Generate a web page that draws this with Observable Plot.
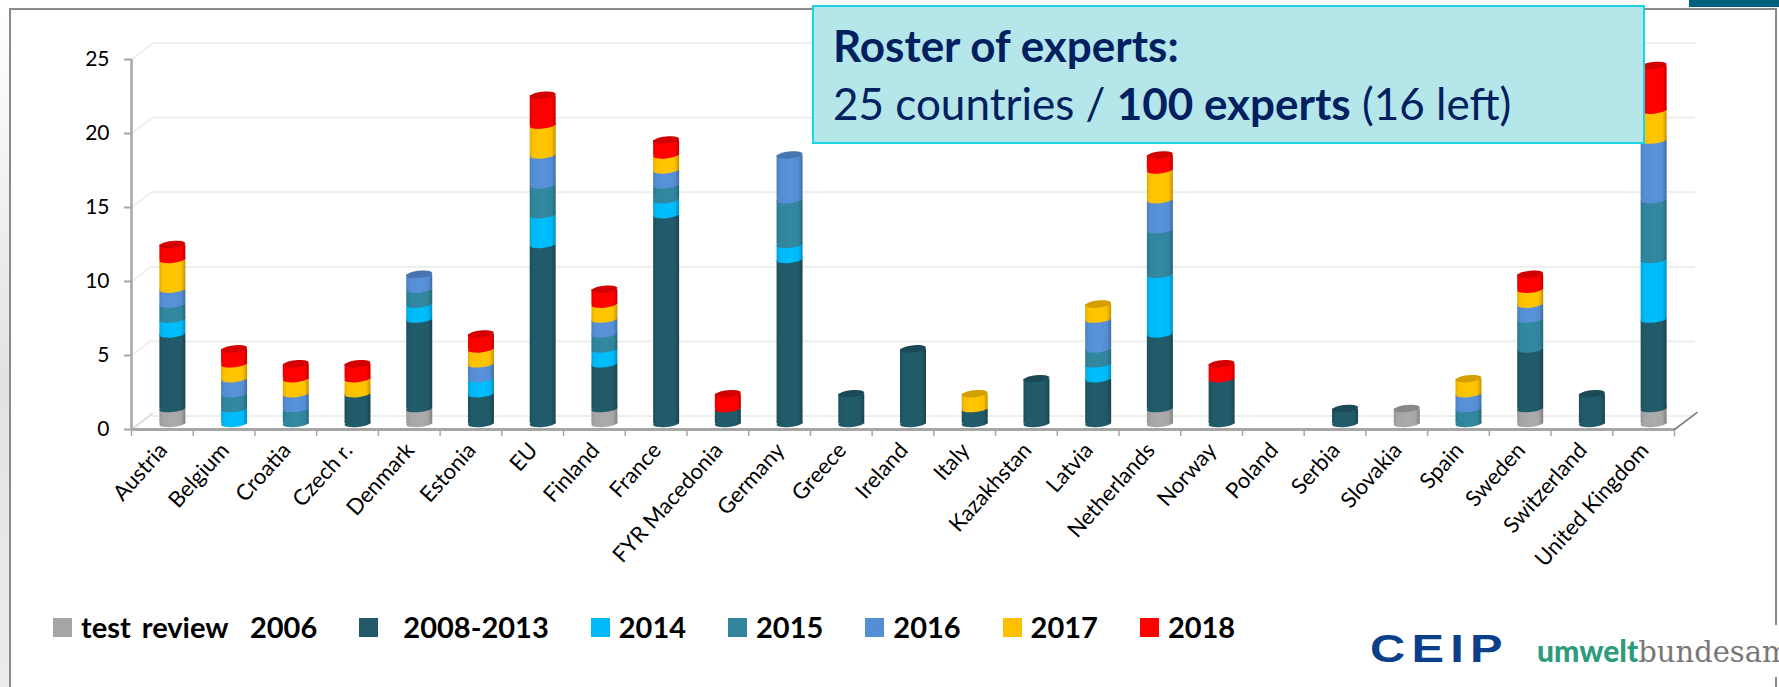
<!DOCTYPE html>
<html><head><meta charset="utf-8">
<script src="https://cdn.jsdelivr.net/npm/d3@7"></script>
<script src="https://cdn.jsdelivr.net/npm/@observablehq/plot@0.6"></script>
<style>
html,body{margin:0;padding:0;background:#fff;overflow:hidden}
#page{position:relative;width:1779px;height:687px;overflow:hidden;font-family:Lato,sans-serif}
#strip{position:absolute;left:0;top:8px;width:9px;height:679px;background:linear-gradient(#fff,#e2e2e2 55%,#ececec)}
#frame{position:absolute;left:9px;top:8px;width:1768px;height:690px;border:2px solid #8a8a8a;box-sizing:border-box}
#corner{position:absolute;left:1689px;top:0;width:90px;height:7px;background:#00607f}
#chart{position:absolute;left:0;top:0}
#note{position:absolute;left:812px;top:5px;width:833px;height:139px;box-sizing:border-box;background:#b5e6ea;border:2.5px solid #1dd5e0;color:#002060;font-size:44px;line-height:58px;padding:9px 0 0 19px;white-space:pre}
#legend{position:absolute;left:53px;top:612px;display:flex;gap:42px;align-items:center;font-weight:700;font-size:29px;line-height:30px;color:#000;white-space:pre;word-spacing:4px}
#legend .item{display:flex;align-items:center;gap:9px}
#legend .sw{width:19px;height:19px;display:inline-block}
#logos{position:absolute;left:1360px;top:625px;width:419px;height:52px;background:#fff;white-space:pre}
#ceip{position:absolute;left:10px;top:2px;font:700 39px "Liberation Sans",sans-serif;letter-spacing:5px;color:#0b3f8a;line-height:44px;transform:scaleX(1.25);transform-origin:left}
#uba{position:absolute;left:177px;top:6px;font-size:29px;line-height:38px;color:#777;font-family:"DejaVu Serif",serif;letter-spacing:0}
#uba b{color:#2e9c7c;font-family:Lato,sans-serif;font-weight:900;font-size:30px}
</style></head><body>
<div id="page">
  <div id="strip"></div><div id="frame"></div><div id="corner"></div>
  <div id="chart"></div>
  <div id="note"><b>Roster of experts:</b>
25 countries / <b>100 experts</b> (16 left)</div>
  <div id="legend"></div>
  <div id="logos"><div id="ceip">CEIP</div><div id="uba"><b>umwelt</b>bundesam</div></div>
</div>
<script>
const countries = ["Austria","Belgium","Croatia","Czech r.","Denmark","Estonia","EU","Finland","France","FYR Macedonia","Germany","Greece","Ireland","Italy","Kazakhstan","Latvia","Netherlands","Norway","Poland","Serbia","Slovakia","Spain","Sweden","Switzerland","United Kingdom"];
const test2006  = [1,0,0,0,1,0,0,1,0,0,0,0,0,0,0,0,1,0,0,0,1,0,1,0,1];
const y2008_13  = [5,0,0,2,6,2,12,3,14,1,11,2,5,1,3,3,5,3,0,1,0,0,4,2,6];
const y2014     = [1,1,0,0,1,1,2,1,1,0,1,0,0,0,0,1,4,0,0,0,0,0,0,0,4];
const y2015     = [1,1,1,0,1,0,2,1,1,0,3,0,0,0,0,1,3,0,0,0,0,1,2,0,4];
const y2016     = [1,1,1,0,1,1,2,1,1,0,3,0,0,0,0,2,2,0,0,0,0,1,1,0,4];
const y2017     = [2,1,1,1,0,1,2,1,1,0,0,0,0,1,0,1,2,0,0,0,0,1,1,0,2];
const y2018     = [1,1,1,1,0,1,2,1,1,1,0,0,0,0,0,0,1,1,0,0,0,0,1,0,3];
const seriesNames  = ["test review  2006","  2008-2013","2014","2015","2016","2017","2018"];
const seriesValues = [test2006,y2008_13,y2014,y2015,y2016,y2017,y2018];
const seriesColors = ["#a6a6a6","#215968","#00b9f7","#31859c","#558ed5","#ffc000","#ff0000"];
const yTicks = [0,5,10,15,20,25];

const left=131,right=1674,top0=59,bottom=429,H=600;
const step=(right-left)/countries.length;
const barW=26, barFrac=barW/step;
const axisGray="#a6a6a6";

// 3D look: bars and back wall are drawn slightly steeper than the front axis
const k=373/370;
const project=(dx,zeroY)=>(index,scales,values,dims,ctx,next)=>{
  const g=next(index,scales,values,dims,ctx);
  g.setAttribute("transform",`translate(${dx},${zeroY-k*bottom}) scale(1,${k})`);
  return g;
};
const onBars=project(10.5,423.5), onSlices=project(10.5+barW/2,423.5), onWall=project(21,416);

// tilted ellipse used for the cylinder slices
const tilt=-6*Math.PI/180, flat=0.27;
const slice={draw(ctx,size){
  const rx=Math.sqrt(size/Math.PI), ry=rx*flat, c=0.5523;
  const P=(a,b)=>[a*Math.cos(tilt)-b*Math.sin(tilt),a*Math.sin(tilt)+b*Math.cos(tilt)];
  ctx.moveTo(...P(rx,0));
  ctx.bezierCurveTo(...P(rx,c*ry),...P(c*rx,ry),...P(0,ry));
  ctx.bezierCurveTo(...P(-c*rx,ry),...P(-rx,c*ry),...P(-rx,0));
  ctx.bezierCurveTo(...P(-rx,-c*ry),...P(-c*rx,-ry),...P(0,-ry));
  ctx.bezierCurveTo(...P(c*rx,-ry),...P(rx,-c*ry),...P(rx,0));
  ctx.closePath();
}};
const line={draw(ctx,l){ctx.moveTo(0,0);ctx.lineTo(0,-l);}};

const defs=()=>{
  const d=d3.create("svg:defs");
  seriesColors.forEach((c,i)=>{
    const lg=d.append("linearGradient").attr("id","g"+i);
    const dark=d3.color(c).darker(0.75).formatHex();
    const lite=d3.color(c).brighter(0.08).formatHex();
    [[0,d3.color(c).darker(0.3).formatHex()],[.14,c],[.55,lite],[.84,c],[1,dark]].forEach(([o,col])=>lg.append("stop").attr("offset",o).attr("stop-color",col));
  });
  return d.node();
};

const marks=[defs];
// back wall
marks.push(Plot.ruleY(yTicks,{y:d=>d,stroke:"#efefef",strokeWidth:2.2,render:onWall}));
marks.push(Plot.vector(yTicks,{x:()=>countries[0],y:d=>d,dx:-barW/2-(step-barW)/2,rotate:52.7,length:26,anchor:"start",shape:line,stroke:d=>d===0?"#dcdcdc":"#efefef",strokeWidth:2}));
// axes
marks.push(Plot.axisY({ticks:yTicks,tickSize:7,tickPadding:15,label:null,fontSize:21,stroke:axisGray,strokeWidth:2,fill:"#000",fontFamily:"Lato"}));
marks.push(Plot.ruleX([countries[0]],{y1:0,y2:25,dx:-step/2,stroke:axisGray,strokeWidth:2.5}));
marks.push(Plot.ruleY([0],{stroke:axisGray,strokeWidth:3}));
marks.push(Plot.axisX({tickSize:7,text:null,label:null,dx:-step/2,stroke:axisGray,strokeWidth:1.5}));
marks.push(Plot.ruleX([countries[countries.length-1]],{y1:0,y2:-0.5,dx:step/2,stroke:axisGray,strokeWidth:1.5}));
marks.push(Plot.vector([0],{x:()=>countries[countries.length-1],y:d=>d,dx:step/2,rotate:53,length:28,anchor:"start",shape:line,stroke:"#808080",strokeWidth:1.8}));
marks.push(Plot.axisX({tickSize:0,tickPadding:17,tickRotate:-48,label:null,fontSize:22,fontFamily:"Lato",fill:"#000",dx:1}));

// stacked cylinders: each slice sits on the one below
const base=countries.map(()=>0);
const topSeries=countries.map(()=>-1);
seriesValues.forEach((vals,s)=>{
  const rows=countries.map((c,i)=>({c,v:vals[i],y1:base[i],y2:base[i]+vals[i]})).filter(d=>d.v>0);
  rows.forEach(r=>{const i=countries.indexOf(r.c);base[i]=r.y2;topSeries[i]=s;});
  marks.push(Plot.dot(rows,{x:"c",y:"y1",r:barW/2,symbol:slice,fill:`url(#g${s})`,render:onSlices}));
  marks.push(Plot.barY(rows,{x:"c",y1:"y1",y2:"y2",fill:`url(#g${s})`,render:onBars}));
});
const tops=countries.map((c,i)=>({c,y:base[i],s:topSeries[i]})).filter(d=>d.s>=0);
marks.push(Plot.dot(tops,{x:"c",y:"y",r:barW/2,symbol:slice,fill:d=>d3.color(seriesColors[d.s]).darker(0.55).formatHex(),render:onSlices}));

const plot=Plot.plot({
  width:1779,height:H,
  marginLeft:left,marginRight:1779-right,marginTop:top0,marginBottom:H-bottom,
  x:{domain:countries,round:false,paddingInner:1-barFrac,paddingOuter:(1-barFrac)/2,axis:null},
  y:{domain:[0,25],axis:null},
  style:{background:"transparent",overflow:"visible"},
  marks
});
document.getElementById("chart").append(plot);

const legend=document.getElementById("legend");
seriesNames.forEach((n,i)=>{
  const it=document.createElement("div");it.className="item";
  const sw=document.createElement("span");sw.className="sw";sw.style.background=seriesColors[i];
  const tx=document.createElement("span");tx.textContent=n;
  if(i===1) tx.style.wordSpacing="1px";
  it.append(sw,tx);legend.append(it);
});
</script>
</body></html>
